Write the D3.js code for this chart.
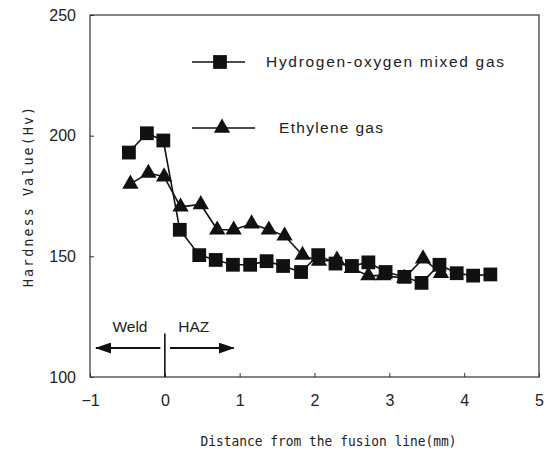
<!DOCTYPE html>
<html>
<head>
<meta charset="utf-8">
<script src="https://cdn.jsdelivr.net/npm/d3@7/dist/d3.min.js"></script>
<style>
  body { margin: 0; background: #fff; }
  text { fill: #222; }
</style>
</head>
<body>
<div id="chart"></div>
<script>
// hydrogen-oxygen mixed gas (squares)
const hoX = [-0.48, -0.24, -0.02, 0.2, 0.46, 0.68, 0.91, 1.14, 1.36, 1.58, 1.82, 2.05, 2.28, 2.5, 2.72, 2.95, 3.2, 3.43, 3.67, 3.9, 4.12, 4.35];
const hoY = [193, 201, 198, 161, 150.5, 148.5, 146.5, 146.5, 148, 146, 143.5, 150.5, 147, 146, 147.5, 143.5, 141.5, 139, 146.5, 143, 142, 142.5];
// ethylene gas (triangles)
const ethX = [-0.46, -0.22, -0.01, 0.21, 0.48, 0.7, 0.92, 1.16, 1.39, 1.6, 1.84, 2.06, 2.3, 2.5, 2.72, 2.92, 3.2, 3.45, 3.69];
const ethY = [180, 184.5, 183, 170.5, 171.5, 161, 161, 163.5, 161, 158.5, 150.5, 148, 148.5, 145, 142, 142, 141, 149, 143];

const xTicks = [-1, 0, 1, 2, 3, 4, 5];
const yTicks = [100, 150, 200, 250];
const seriesNames = ["Hydrogen-oxygen mixed gas", "Ethylene gas"];
const xTitle = "Distance from the fusion line(mm)";
const yTitle = "Hardness Value(Hv)";

const dimensions = { width: 550, height: 455 };
const margin = { left: 90, right: 11, top: 15, bottom: 78 };

const svg = d3.select("#chart").append("svg")
  .attr("width", dimensions.width)
  .attr("height", dimensions.height);

const xScale = d3.scaleLinear().domain([-1, 5])
  .range([margin.left, dimensions.width - margin.right]);
const yScale = d3.scaleLinear().domain([100, 250])
  .range([dimensions.height - margin.bottom, margin.top]);

const frameColor = "#333";

// frame
svg.append("rect")
  .attr("x", xScale(-1)).attr("y", yScale(250))
  .attr("width", xScale(5) - xScale(-1))
  .attr("height", yScale(100) - yScale(250))
  .attr("fill", "none").attr("stroke", frameColor).attr("stroke-width", 1.2);

// axes: inward ticks, labels outside
const xAxis = d3.axisBottom(xScale).tickValues(xTicks)
  .tickSizeInner(-4).tickSizeOuter(0).tickPadding(18)
  .tickFormat(d => d < 0 ? "\u2212" + Math.abs(d) : d);
const gx = svg.append("g")
  .attr("transform", `translate(0,${yScale(100)})`)
  .call(xAxis);
gx.select(".domain").remove();
gx.selectAll("line").attr("stroke", frameColor);
gx.selectAll("text").attr("font-family", "Liberation Sans, Arial, sans-serif")
  .attr("font-size", 16).attr("fill", "#222");

const yAxis = d3.axisLeft(yScale).tickValues(yTicks)
  .tickSizeInner(-4).tickSizeOuter(0).tickPadding(14);
const gy = svg.append("g")
  .attr("transform", `translate(${xScale(-1)},0)`)
  .call(yAxis);
gy.select(".domain").remove();
gy.selectAll("line").attr("stroke", frameColor);
gy.selectAll("text").attr("font-family", "Liberation Sans, Arial, sans-serif")
  .attr("font-size", 16).attr("fill", "#222");

// axis titles
svg.append("text")
  .attr("x", (xScale(-1) + xScale(5)) / 2 + 14)
  .attr("y", 446)
  .attr("text-anchor", "middle")
  .attr("font-family", "DejaVu Sans Mono, monospace")
  .attr("font-size", 14)
  .attr("textLength", 256)
  .attr("lengthAdjust", "spacingAndGlyphs")
  .text(xTitle);

svg.append("text")
  .attr("transform", `translate(33,${(yScale(100) + yScale(250)) / 2}) rotate(-90)`)
  .attr("text-anchor", "middle")
  .attr("font-family", "DejaVu Sans Mono, monospace")
  .attr("font-size", 13.5)
  .attr("letter-spacing", 2)
  .text(yTitle);

// weld / HAZ annotation
const defs = svg.append("defs");
defs.append("marker")
  .attr("id", "arrow")
  .attr("viewBox", "0 0 16 11")
  .attr("refX", 15).attr("refY", 5.5)
  .attr("markerWidth", 16).attr("markerHeight", 11)
  .attr("markerUnits", "userSpaceOnUse")
  .attr("orient", "auto")
  .append("path").attr("d", "M0,0 L16,5.5 L0,11 Z").attr("fill", "#111");

svg.append("line")
  .attr("x1", xScale(0)).attr("x2", xScale(0))
  .attr("y1", yScale(118)).attr("y2", yScale(100))
  .attr("stroke", "#111").attr("stroke-width", 1.6);

const arrowY = yScale(112);
svg.append("line")
  .attr("x1", xScale(-0.06)).attr("x2", xScale(-0.92))
  .attr("y1", arrowY).attr("y2", arrowY)
  .attr("stroke", "#111").attr("stroke-width", 2)
  .attr("marker-end", "url(#arrow)");
svg.append("line")
  .attr("x1", xScale(0.07)).attr("x2", xScale(0.92))
  .attr("y1", arrowY).attr("y2", arrowY)
  .attr("stroke", "#111").attr("stroke-width", 2)
  .attr("marker-end", "url(#arrow)");

svg.append("text")
  .attr("x", xScale(-0.7)).attr("y", yScale(118.5))
  .attr("font-family", "Liberation Sans, Arial, sans-serif")
  .attr("font-size", 15.5)
  .text("Weld");
svg.append("text")
  .attr("x", xScale(0.18)).attr("y", yScale(118.5))
  .attr("font-family", "Liberation Sans, Arial, sans-serif")
  .attr("font-size", 15.5)
  .text("HAZ");

// series
const line = d3.line().x(d => xScale(d[0])).y(d => yScale(d[1]));
const hoData = hoX.map((x, i) => [x, hoY[i]]);
const ethData = ethX.map((x, i) => [x, ethY[i]]);

const squareSym = d3.symbol().type(d3.symbolSquare).size(190);
const triSym = d3.symbol().type(d3.symbolTriangle).size(115);

svg.append("path").datum(ethData)
  .attr("d", line).attr("fill", "none")
  .attr("stroke", "#111").attr("stroke-width", 1.6);
svg.append("path").datum(hoData)
  .attr("d", line).attr("fill", "none")
  .attr("stroke", "#111").attr("stroke-width", 1.6);

svg.append("g").selectAll("path")
  .data(hoData)
  .join("path")
  .attr("d", squareSym)
  .attr("transform", d => `translate(${xScale(d[0])},${yScale(d[1])})`)
  .attr("fill", "#111");

svg.append("g").selectAll("path")
  .data(ethData)
  .join("path")
  .attr("d", triSym)
  .attr("transform", d => `translate(${xScale(d[0])},${yScale(d[1])})`)
  .attr("fill", "#111");

// legend
const legend = svg.append("g");
const legendRows = [
  { name: seriesNames[0], sym: squareSym, y: 62, x1: 192, x2: 245, mx: 220, tx: 266, len: 238 },
  { name: seriesNames[1], sym: triSym, y: 128, x1: 192, x2: 255, mx: 222, tx: 279, len: 104 }
];
legendRows.forEach(r => {
  legend.append("line")
    .attr("x1", r.x1).attr("x2", r.x2).attr("y1", r.y).attr("y2", r.y)
    .attr("stroke", "#111").attr("stroke-width", 1.6);
  legend.append("path")
    .attr("d", r.sym)
    .attr("transform", `translate(${r.mx},${r.y})`)
    .attr("fill", "#111");
  legend.append("text")
    .attr("x", r.tx).attr("y", r.y + 5)
    .attr("font-family", "Liberation Sans, Arial, sans-serif")
    .attr("font-size", 15.5)
    .attr("textLength", r.len)
    .attr("lengthAdjust", "spacing")
    .text(r.name);
});
</script>
</body>
</html>
